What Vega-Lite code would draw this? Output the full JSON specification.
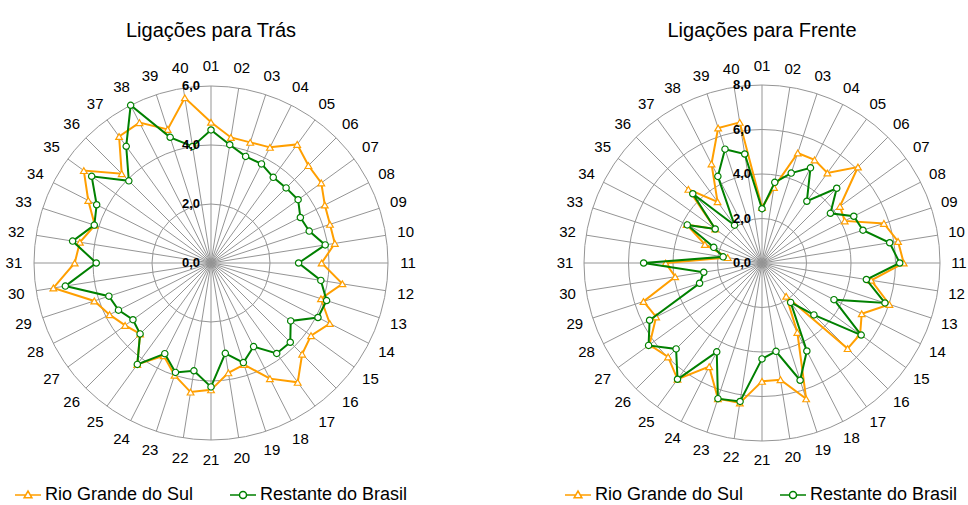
{
  "$schema": "https://vega.github.io/schema/vega-lite/v6.json",
  "background": "white",
  "padding": {"left": 5, "top": 20, "right": 0, "bottom": 0},
  "bounds": "flush",
  "spacing": 151,
  "config": {
    "view": {"stroke": null},
    "locale": {"number": {"decimal": ",", "thousands": ".", "grouping": [3], "currency": ["R$", ""]}},
    "legend": {
      "orient": "none", "direction": "horizontal", "title": null, "legendY": 418,
      "labelFont": "Liberation Sans", "labelFontSize": 18, "labelColor": "#000000", "labelLimit": 0,
      "symbolSize": 676, "symbolStrokeWidth": 1.5, "symbolOpacity": 1, "columnPadding": 33, "labelOffset": 3
    }
  },
  "datasets": {
    "tras": [
      {"cat":"01","series":"Rio Grande do Sul","value":4.77},{"cat":"02","series":"Rio Grande do Sul","value":4.31},{"cat":"03","series":"Rio Grande do Sul","value":4.30},{"cat":"04","series":"Rio Grande do Sul","value":4.40},{"cat":"05","series":"Rio Grande do Sul","value":4.97},{"cat":"06","series":"Rio Grande do Sul","value":4.67},{"cat":"07","series":"Rio Grande do Sul","value":4.62},{"cat":"08","series":"Rio Grande do Sul","value":4.33},{"cat":"09","series":"Rio Grande do Sul","value":4.24},{"cat":"10","series":"Rio Grande do Sul","value":4.25},
      {"cat":"11","series":"Rio Grande do Sul","value":3.75},{"cat":"12","series":"Rio Grande do Sul","value":4.51},{"cat":"13","series":"Rio Grande do Sul","value":3.92},{"cat":"14","series":"Rio Grande do Sul","value":4.52},{"cat":"15","series":"Rio Grande do Sul","value":4.19},{"cat":"16","series":"Rio Grande do Sul","value":4.37},{"cat":"17","series":"Rio Grande do Sul","value":5.00},{"cat":"18","series":"Rio Grande do Sul","value":4.40},{"cat":"19","series":"Rio Grande do Sul","value":3.62},{"cat":"20","series":"Rio Grande do Sul","value":3.77},
      {"cat":"21","series":"Rio Grande do Sul","value":4.30},{"cat":"22","series":"Rio Grande do Sul","value":4.43},{"cat":"23","series":"Rio Grande do Sul","value":4.00},{"cat":"24","series":"Rio Grande do Sul","value":3.53},{"cat":"25","series":"Rio Grande do Sul","value":4.25},{"cat":"26","series":"Rio Grande do Sul","value":3.40},{"cat":"27","series":"Rio Grande do Sul","value":3.60},{"cat":"28","series":"Rio Grande do Sul","value":3.86},{"cat":"29","series":"Rio Grande do Sul","value":4.16},{"cat":"30","series":"Rio Grande do Sul","value":5.41},
      {"cat":"31","series":"Rio Grande do Sul","value":4.62},{"cat":"32","series":"Rio Grande do Sul","value":4.50},{"cat":"33","series":"Rio Grande do Sul","value":4.14},{"cat":"34","series":"Rio Grande do Sul","value":4.67},{"cat":"35","series":"Rio Grande do Sul","value":5.33},{"cat":"36","series":"Rio Grande do Sul","value":4.28},{"cat":"37","series":"Rio Grande do Sul","value":5.30},{"cat":"38","series":"Rio Grande do Sul","value":5.34},{"cat":"39","series":"Rio Grande do Sul","value":4.76},{"cat":"40","series":"Rio Grande do Sul","value":5.67},
      {"cat":"01","series":"Restante do Brasil","value":4.51},{"cat":"02","series":"Restante do Brasil","value":4.06},{"cat":"03","series":"Restante do Brasil","value":3.80},{"cat":"04","series":"Restante do Brasil","value":3.77},{"cat":"05","series":"Restante do Brasil","value":3.59},{"cat":"06","series":"Restante do Brasil","value":3.60},{"cat":"07","series":"Restante do Brasil","value":3.65},{"cat":"08","series":"Restante do Brasil","value":3.40},{"cat":"09","series":"Restante do Brasil","value":3.50},{"cat":"10","series":"Restante do Brasil","value":3.92},
      {"cat":"11","series":"Restante do Brasil","value":2.97},{"cat":"12","series":"Restante do Brasil","value":3.77},{"cat":"13","series":"Restante do Brasil","value":4.12},{"cat":"14","series":"Restante do Brasil","value":4.07},{"cat":"15","series":"Restante do Brasil","value":3.34},{"cat":"16","series":"Restante do Brasil","value":3.80},{"cat":"17","series":"Restante do Brasil","value":3.79},{"cat":"18","series":"Restante do Brasil","value":3.18},{"cat":"19","series":"Restante do Brasil","value":3.55},{"cat":"20","series":"Restante do Brasil","value":3.10},
      {"cat":"21","series":"Restante do Brasil","value":4.20},{"cat":"22","series":"Restante do Brasil","value":3.70},{"cat":"23","series":"Restante do Brasil","value":3.90},{"cat":"24","series":"Restante do Brasil","value":3.45},{"cat":"25","series":"Restante do Brasil","value":4.25},{"cat":"26","series":"Restante do Brasil","value":3.40},{"cat":"27","series":"Restante do Brasil","value":3.27},{"cat":"28","series":"Restante do Brasil","value":3.52},{"cat":"29","series":"Restante do Brasil","value":3.64},{"cat":"30","series":"Restante do Brasil","value":5.00},
      {"cat":"31","series":"Restante do Brasil","value":3.89},{"cat":"32","series":"Restante do Brasil","value":4.75},{"cat":"33","series":"Restante do Brasil","value":4.16},{"cat":"34","series":"Restante do Brasil","value":4.35},{"cat":"35","series":"Restante do Brasil","value":5.00},{"cat":"36","series":"Restante do Brasil","value":3.94},{"cat":"37","series":"Restante do Brasil","value":4.89},{"cat":"38","series":"Restante do Brasil","value":6.00},{"cat":"39","series":"Restante do Brasil","value":4.48},{"cat":"40","series":"Restante do Brasil","value":4.00}
    ],
    "frente": [
      {"cat":"01","series":"Rio Grande do Sul","value":2.50},{"cat":"02","series":"Rio Grande do Sul","value":3.44},{"cat":"03","series":"Rio Grande do Sul","value":5.20},{"cat":"04","series":"Rio Grande do Sul","value":5.20},{"cat":"05","series":"Rio Grande do Sul","value":5.00},{"cat":"06","series":"Rio Grande do Sul","value":6.10},{"cat":"07","series":"Rio Grande do Sul","value":4.33},{"cat":"08","series":"Rio Grande do Sul","value":4.17},{"cat":"09","series":"Rio Grande do Sul","value":5.76},{"cat":"10","series":"Rio Grande do Sul","value":6.19},
      {"cat":"11","series":"Rio Grande do Sul","value":6.37},{"cat":"12","series":"Rio Grande do Sul","value":4.97},{"cat":"13","series":"Rio Grande do Sul","value":6.02},{"cat":"14","series":"Rio Grande do Sul","value":5.03},{"cat":"15","series":"Rio Grande do Sul","value":5.45},{"cat":"16","series":"Rio Grande do Sul","value":5.44},{"cat":"17","series":"Rio Grande do Sul","value":1.85},{"cat":"18","series":"Rio Grande do Sul","value":3.50},{"cat":"19","series":"Rio Grande do Sul","value":6.42},{"cat":"20","series":"Rio Grande do Sul","value":5.31},
      {"cat":"21","series":"Rio Grande do Sul","value":5.32},{"cat":"22","series":"Rio Grande do Sul","value":6.37},{"cat":"23","series":"Rio Grande do Sul","value":6.41},{"cat":"24","series":"Rio Grande do Sul","value":5.23},{"cat":"25","series":"Rio Grande do Sul","value":6.46},{"cat":"26","series":"Rio Grande do Sul","value":5.97},{"cat":"27","series":"Rio Grande do Sul","value":6.25},{"cat":"28","series":"Rio Grande do Sul","value":5.34},{"cat":"29","series":"Rio Grande do Sul","value":5.60},{"cat":"30","series":"Rio Grande do Sul","value":3.95},
      {"cat":"31","series":"Rio Grande do Sul","value":4.33},{"cat":"32","series":"Rio Grande do Sul","value":1.56},{"cat":"33","series":"Rio Grande do Sul","value":2.70},{"cat":"34","series":"Rio Grande do Sul","value":3.80},{"cat":"35","series":"Rio Grande do Sul","value":2.60},{"cat":"36","series":"Rio Grande do Sul","value":4.68},{"cat":"37","series":"Rio Grande do Sul","value":3.40},{"cat":"38","series":"Rio Grande do Sul","value":5.00},{"cat":"39","series":"Rio Grande do Sul","value":6.38},{"cat":"40","series":"Rio Grande do Sul","value":6.40},
      {"cat":"01","series":"Restante do Brasil","value":2.44},{"cat":"02","series":"Restante do Brasil","value":3.67},{"cat":"03","series":"Restante do Brasil","value":4.25},{"cat":"04","series":"Restante do Brasil","value":4.80},{"cat":"05","series":"Restante do Brasil","value":3.43},{"cat":"06","series":"Restante do Brasil","value":4.75},{"cat":"07","series":"Restante do Brasil","value":3.80},{"cat":"08","series":"Restante do Brasil","value":4.63},{"cat":"09","series":"Restante do Brasil","value":4.77},{"cat":"10","series":"Restante do Brasil","value":5.81},
      {"cat":"11","series":"Restante do Brasil","value":6.19},{"cat":"12","series":"Restante do Brasil","value":4.75},{"cat":"13","series":"Restante do Brasil","value":5.81},{"cat":"14","series":"Restante do Brasil","value":3.63},{"cat":"15","series":"Restante do Brasil","value":5.51},{"cat":"16","series":"Restante do Brasil","value":3.30},{"cat":"17","series":"Restante do Brasil","value":2.19},{"cat":"18","series":"Restante do Brasil","value":4.44},{"cat":"19","series":"Restante do Brasil","value":5.54},{"cat":"20","series":"Restante do Brasil","value":4.02},
      {"cat":"21","series":"Restante do Brasil","value":4.31},{"cat":"22","series":"Restante do Brasil","value":6.30},{"cat":"23","series":"Restante do Brasil","value":6.41},{"cat":"24","series":"Restante do Brasil","value":4.48},{"cat":"25","series":"Restante do Brasil","value":6.46},{"cat":"26","series":"Restante do Brasil","value":5.46},{"cat":"27","series":"Restante do Brasil","value":6.30},{"cat":"28","series":"Restante do Brasil","value":5.67},{"cat":"29","series":"Restante do Brasil","value":2.95},{"cat":"30","series":"Restante do Brasil","value":2.65},
      {"cat":"31","series":"Restante do Brasil","value":5.32},{"cat":"32","series":"Restante do Brasil","value":1.77},{"cat":"33","series":"Restante do Brasil","value":2.28},{"cat":"34","series":"Restante do Brasil","value":3.77},{"cat":"35","series":"Restante do Brasil","value":2.60},{"cat":"36","series":"Restante do Brasil","value":4.40},{"cat":"37","series":"Restante do Brasil","value":2.10},{"cat":"38","series":"Restante do Brasil","value":4.37},{"cat":"39","series":"Restante do Brasil","value":5.38},{"cat":"40","series":"Restante do Brasil","value":4.96}
    ]
  },
  "resolve": {
    "scale": {"x": "independent", "y": "independent", "color": "independent", "size": "independent", "shape": "independent"},
    "legend": {"color": "independent", "shape": "independent"}
  },
  "hconcat": [
    {
      "width": 400,
      "height": 400,
      "title": {"text": "Ligações para Trás", "font": "Liberation Sans", "fontSize": 20, "fontWeight": "normal", "color": "#000000", "anchor": "middle", "frame": "group", "offset": 18},
      "layer": [
        {
          "data": {"values": [{"v": 2}, {"v": 4}, {"v": 6}]},
          "transform": [{"calculate": "0", "as": "c"}],
          "mark": {"type": "point", "shape": "circle", "filled": false, "stroke": "#959595", "strokeWidth": 1, "opacity": 1},
          "encoding": {
            "x": {"field": "c", "type": "quantitative", "scale": {"domain": [-6.7797, 6.7797], "nice": false, "zero": false}, "axis": null},
            "y": {"field": "c", "type": "quantitative", "scale": {"domain": [-6.7797, 6.7797], "nice": false, "zero": false}, "axis": null},
            "size": {"field": "v", "type": "quantitative", "scale": {"type": "pow", "exponent": 2, "domain": [0, 6], "range": [0, 125316]}, "legend": null}
          }
        },
        {
          "data": {"name": "tras"},
          "transform": [
            {"filter": "datum.series === 'Rio Grande do Sul'"},
            {"calculate": "(toNumber(datum.cat)-1)*PI/20", "as": "ang"},
            {"calculate": "0", "as": "c"},
            {"calculate": "6*sin(datum.ang)", "as": "ex"},
            {"calculate": "6*cos(datum.ang)", "as": "ey"}
          ],
          "mark": {"type": "rule", "color": "#959595", "strokeWidth": 1},
          "encoding": {
            "x": {"field": "c", "type": "quantitative"},
            "y": {"field": "c", "type": "quantitative"},
            "x2": {"field": "ex"},
            "y2": {"field": "ey"}
          }
        },
        {
          "data": {"name": "tras"},
          "transform": [
            {"filter": "datum.series === 'Rio Grande do Sul'"},
            {"calculate": "(toNumber(datum.cat)-1)*PI/20", "as": "ang"},
            {"calculate": "6.68*sin(datum.ang)", "as": "lx"},
            {"calculate": "6.68*cos(datum.ang)", "as": "ly"}
          ],
          "mark": {"type": "text", "font": "Liberation Sans", "fontSize": 15, "color": "#000000", "align": "center", "baseline": "middle"},
          "encoding": {
            "x": {"field": "lx", "type": "quantitative"},
            "y": {"field": "ly", "type": "quantitative"},
            "text": {"field": "cat", "type": "nominal"}
          }
        },
        {
          "data": {"name": "tras"},
          "transform": [{"filter": "false"}],
          "mark": {"type": "point", "filled": false, "opacity": 1},
          "encoding": {
            "color": {"field": "series", "type": "nominal", "legend": {"legendX": 3}},
            "shape": {
              "field": "series", "type": "nominal",
              "scale": {"domain": ["Rio Grande do Sul", "Restante do Brasil"], "range": ["M-1,0L-0.2,0M0.2,0L1,0M-0.3,0.22L0.3,0.22L0,-0.3Z", "M-1,0L-0.27,0M0.27,0L1,0M0.27,0A0.27,0.27,0,1,1,-0.27,0A0.27,0.27,0,1,1,0.27,0Z"]},
              "legend": {"legendX": 3}
            }
          }
        },
        {
          "data": {"name": "tras"},
          "transform": [
            {"filter": "datum.series === 'Rio Grande do Sul'"},
            {"calculate": "(toNumber(datum.cat)-1)*PI/20", "as": "ang"},
            {"calculate": "datum.value*sin(datum.ang)", "as": "px"},
            {"calculate": "datum.value*cos(datum.ang)", "as": "py"}
          ],
          "mark": {"type": "line", "interpolate": "linear-closed", "strokeWidth": 2},
          "encoding": {
            "x": {"field": "px", "type": "quantitative"},
            "y": {"field": "py", "type": "quantitative"},
            "order": {"field": "ang", "type": "quantitative"},
            "color": {
              "field": "series", "type": "nominal",
              "scale": {"domain": ["Rio Grande do Sul", "Restante do Brasil"], "range": ["#FF9F00", "#008000"]},
              "legend": {"legendX": 3}
            }
          }
        },
        {
          "data": {"name": "tras"},
          "transform": [
            {"filter": "datum.series === 'Rio Grande do Sul'"},
            {"calculate": "(toNumber(datum.cat)-1)*PI/20", "as": "ang"},
            {"calculate": "datum.value*sin(datum.ang)", "as": "px"},
            {"calculate": "datum.value*cos(datum.ang)", "as": "py"}
          ],
          "mark": {"type": "point", "shape": "triangle-up", "filled": false, "fill": "white", "size": 45, "strokeWidth": 1.2, "opacity": 1},
          "encoding": {
            "x": {"field": "px", "type": "quantitative"},
            "y": {"field": "py", "type": "quantitative"},
            "color": {"field": "series", "type": "nominal", "legend": {"legendX": 3}}
          }
        },
        {
          "data": {"name": "tras"},
          "transform": [
            {"filter": "datum.series === 'Restante do Brasil'"},
            {"calculate": "(toNumber(datum.cat)-1)*PI/20", "as": "ang"},
            {"calculate": "datum.value*sin(datum.ang)", "as": "px"},
            {"calculate": "datum.value*cos(datum.ang)", "as": "py"}
          ],
          "mark": {"type": "line", "interpolate": "linear-closed", "strokeWidth": 2},
          "encoding": {
            "x": {"field": "px", "type": "quantitative"},
            "y": {"field": "py", "type": "quantitative"},
            "order": {"field": "ang", "type": "quantitative"},
            "color": {"field": "series", "type": "nominal", "legend": {"legendX": 3}}
          }
        },
        {
          "data": {"name": "tras"},
          "transform": [
            {"filter": "datum.series === 'Restante do Brasil'"},
            {"calculate": "(toNumber(datum.cat)-1)*PI/20", "as": "ang"},
            {"calculate": "datum.value*sin(datum.ang)", "as": "px"},
            {"calculate": "datum.value*cos(datum.ang)", "as": "py"}
          ],
          "mark": {"type": "point", "shape": "circle", "filled": false, "fill": "white", "size": 40, "strokeWidth": 1.2, "opacity": 1},
          "encoding": {
            "x": {"field": "px", "type": "quantitative"},
            "y": {"field": "py", "type": "quantitative"},
            "color": {"field": "series", "type": "nominal", "legend": {"legendX": 3}}
          }
        },
        {
          "data": {"values": [{"v": 0}, {"v": 2}, {"v": 4}, {"v": 6}]},
          "transform": [{"calculate": "0", "as": "c"}],
          "mark": {"type": "text", "font": "Liberation Sans", "fontSize": 13, "fontWeight": "bold", "color": "#000000", "align": "right", "baseline": "middle", "dx": -11},
          "encoding": {
            "x": {"field": "c", "type": "quantitative"},
            "y": {"field": "v", "type": "quantitative"},
            "text": {"field": "v", "type": "quantitative", "format": ".1f"}
          }
        }
      ]
    },
    {
      "width": 400,
      "height": 400,
      "title": {"text": "Ligações para Frente", "font": "Liberation Sans", "fontSize": 20, "fontWeight": "normal", "color": "#000000", "anchor": "middle", "frame": "group", "offset": 18},
      "layer": [
        {
          "data": {"values": [{"v": 2}, {"v": 4}, {"v": 6}, {"v": 8}]},
          "transform": [{"calculate": "0", "as": "c"}],
          "mark": {"type": "point", "shape": "circle", "filled": false, "stroke": "#959595", "strokeWidth": 1, "opacity": 1},
          "encoding": {
            "x": {"field": "c", "type": "quantitative", "scale": {"domain": [-8.9888, 8.9888], "nice": false, "zero": false}, "axis": null},
            "y": {"field": "c", "type": "quantitative", "scale": {"domain": [-8.9888, 8.9888], "nice": false, "zero": false}, "axis": null},
            "size": {"field": "v", "type": "quantitative", "scale": {"type": "pow", "exponent": 2, "domain": [0, 8], "range": [0, 126736]}, "legend": null}
          }
        },
        {
          "data": {"name": "frente"},
          "transform": [
            {"filter": "datum.series === 'Rio Grande do Sul'"},
            {"calculate": "(toNumber(datum.cat)-1)*PI/20", "as": "ang"},
            {"calculate": "0", "as": "c"},
            {"calculate": "8*sin(datum.ang)", "as": "ex"},
            {"calculate": "8*cos(datum.ang)", "as": "ey"}
          ],
          "mark": {"type": "rule", "color": "#959595", "strokeWidth": 1},
          "encoding": {
            "x": {"field": "c", "type": "quantitative"},
            "y": {"field": "c", "type": "quantitative"},
            "x2": {"field": "ex"},
            "y2": {"field": "ey"}
          }
        },
        {
          "data": {"name": "frente"},
          "transform": [
            {"filter": "datum.series === 'Rio Grande do Sul'"},
            {"calculate": "(toNumber(datum.cat)-1)*PI/20", "as": "ang"},
            {"calculate": "8.85*sin(datum.ang)", "as": "lx"},
            {"calculate": "8.85*cos(datum.ang)", "as": "ly"}
          ],
          "mark": {"type": "text", "font": "Liberation Sans", "fontSize": 15, "color": "#000000", "align": "center", "baseline": "middle"},
          "encoding": {
            "x": {"field": "lx", "type": "quantitative"},
            "y": {"field": "ly", "type": "quantitative"},
            "text": {"field": "cat", "type": "nominal"}
          }
        },
        {
          "data": {"name": "frente"},
          "transform": [{"filter": "false"}],
          "mark": {"type": "point", "filled": false, "opacity": 1},
          "encoding": {
            "color": {"field": "series", "type": "nominal", "legend": {"legendX": 2}},
            "shape": {
              "field": "series", "type": "nominal",
              "scale": {"domain": ["Rio Grande do Sul", "Restante do Brasil"], "range": ["M-1,0L-0.2,0M0.2,0L1,0M-0.3,0.22L0.3,0.22L0,-0.3Z", "M-1,0L-0.27,0M0.27,0L1,0M0.27,0A0.27,0.27,0,1,1,-0.27,0A0.27,0.27,0,1,1,0.27,0Z"]},
              "legend": {"legendX": 2}
            }
          }
        },
        {
          "data": {"name": "frente"},
          "transform": [
            {"filter": "datum.series === 'Rio Grande do Sul'"},
            {"calculate": "(toNumber(datum.cat)-1)*PI/20", "as": "ang"},
            {"calculate": "datum.value*sin(datum.ang)", "as": "px"},
            {"calculate": "datum.value*cos(datum.ang)", "as": "py"}
          ],
          "mark": {"type": "line", "interpolate": "linear-closed", "strokeWidth": 2},
          "encoding": {
            "x": {"field": "px", "type": "quantitative"},
            "y": {"field": "py", "type": "quantitative"},
            "order": {"field": "ang", "type": "quantitative"},
            "color": {
              "field": "series", "type": "nominal",
              "scale": {"domain": ["Rio Grande do Sul", "Restante do Brasil"], "range": ["#FF9F00", "#008000"]},
              "legend": {"legendX": 2}
            }
          }
        },
        {
          "data": {"name": "frente"},
          "transform": [
            {"filter": "datum.series === 'Rio Grande do Sul'"},
            {"calculate": "(toNumber(datum.cat)-1)*PI/20", "as": "ang"},
            {"calculate": "datum.value*sin(datum.ang)", "as": "px"},
            {"calculate": "datum.value*cos(datum.ang)", "as": "py"}
          ],
          "mark": {"type": "point", "shape": "triangle-up", "filled": false, "fill": "white", "size": 45, "strokeWidth": 1.2, "opacity": 1},
          "encoding": {
            "x": {"field": "px", "type": "quantitative"},
            "y": {"field": "py", "type": "quantitative"},
            "color": {"field": "series", "type": "nominal", "legend": {"legendX": 2}}
          }
        },
        {
          "data": {"name": "frente"},
          "transform": [
            {"filter": "datum.series === 'Restante do Brasil'"},
            {"calculate": "(toNumber(datum.cat)-1)*PI/20", "as": "ang"},
            {"calculate": "datum.value*sin(datum.ang)", "as": "px"},
            {"calculate": "datum.value*cos(datum.ang)", "as": "py"}
          ],
          "mark": {"type": "line", "interpolate": "linear-closed", "strokeWidth": 2},
          "encoding": {
            "x": {"field": "px", "type": "quantitative"},
            "y": {"field": "py", "type": "quantitative"},
            "order": {"field": "ang", "type": "quantitative"},
            "color": {"field": "series", "type": "nominal", "legend": {"legendX": 2}}
          }
        },
        {
          "data": {"name": "frente"},
          "transform": [
            {"filter": "datum.series === 'Restante do Brasil'"},
            {"calculate": "(toNumber(datum.cat)-1)*PI/20", "as": "ang"},
            {"calculate": "datum.value*sin(datum.ang)", "as": "px"},
            {"calculate": "datum.value*cos(datum.ang)", "as": "py"}
          ],
          "mark": {"type": "point", "shape": "circle", "filled": false, "fill": "white", "size": 40, "strokeWidth": 1.2, "opacity": 1},
          "encoding": {
            "x": {"field": "px", "type": "quantitative"},
            "y": {"field": "py", "type": "quantitative"},
            "color": {"field": "series", "type": "nominal", "legend": {"legendX": 2}}
          }
        },
        {
          "data": {"values": [{"v": 0}, {"v": 2}, {"v": 4}, {"v": 6}, {"v": 8}]},
          "transform": [{"calculate": "0", "as": "c"}],
          "mark": {"type": "text", "font": "Liberation Sans", "fontSize": 13, "fontWeight": "bold", "color": "#000000", "align": "right", "baseline": "middle", "dx": -11},
          "encoding": {
            "x": {"field": "c", "type": "quantitative"},
            "y": {"field": "v", "type": "quantitative"},
            "text": {"field": "v", "type": "quantitative", "format": ".1f"}
          }
        }
      ]
    }
  ]
}
